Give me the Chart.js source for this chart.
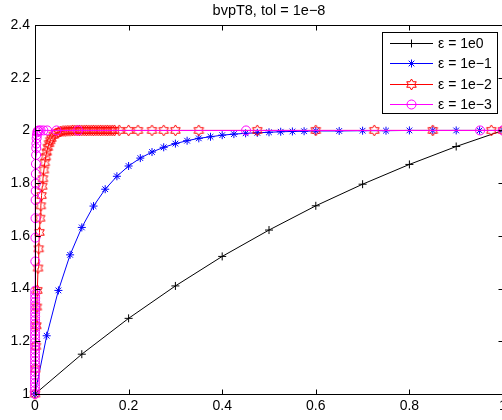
<!DOCTYPE html>
<html>
<head>
<meta charset="utf-8">
<script src="https://cdn.jsdelivr.net/npm/chart.js@4/dist/chart.umd.min.js"></script>
<style>
  html, body { margin: 0; padding: 0; background: #fff; overflow: hidden; }
  #wrap { width: 509px; height: 420px; }
</style>
</head>
<body>
<div id="wrap"><canvas id="c" width="509" height="420"></canvas></div>
<script>
const TITLE = 'bvpT8, tol = 1e\u22128';
const LEGEND_LABELS = ['\u03b5 = 1e0', '\u03b5 = 1e\u22121', '\u03b5 = 1e\u22122', '\u03b5 = 1e\u22123'];

const X_TICKS = [0, 0.2, 0.4, 0.6, 0.8, 1];
const Y_TICKS = [1, 1.2, 1.4, 1.6, 1.8, 2, 2.2, 2.4];

// eps = 1e0
const blackX = [0, 0.1, 0.2, 0.3, 0.4, 0.5, 0.6, 0.7, 0.8, 0.9, 1];
const blackY = [1, 1.151, 1.287, 1.41, 1.522, 1.622, 1.714, 1.796, 1.871, 1.939, 2];

// eps = 1e-1
const blueX = [0, 0.025, 0.05, 0.075, 0.1, 0.125, 0.15, 0.175, 0.2, 0.225, 0.25, 0.275, 0.3,
  0.325, 0.35, 0.375, 0.4, 0.425, 0.45, 0.475, 0.5, 0.525, 0.55, 0.575, 0.6,
  0.65, 0.7, 0.75, 0.8, 0.85, 0.9, 0.95, 1];
const blueY = [1, 1.221, 1.393, 1.528, 1.632, 1.713, 1.777, 1.826, 1.865, 1.895, 1.918, 1.936, 1.95,
  1.961, 1.97, 1.976, 1.982, 1.986, 1.989, 1.991, 1.993, 1.995, 1.996, 1.997, 1.998,
  1.998, 1.999, 1.999, 2, 2, 2, 2, 2];

// eps = 1e-2
const redX = [0, 0.001, 0.002, 0.003, 0.004, 0.005, 0.0065, 0.008, 0.0095, 0.011, 0.0125, 0.014,
  0.0155, 0.017, 0.019, 0.021, 0.023, 0.025, 0.0275, 0.03, 0.0325, 0.035, 0.04, 0.045, 0.05,
  0.055, 0.06, 0.065, 0.07, 0.075, 0.08, 0.085, 0.09, 0.095, 0.1, 0.105, 0.11, 0.115, 0.12,
  0.125, 0.13, 0.135, 0.14, 0.145, 0.15, 0.155, 0.16, 0.165, 0.17, 0.18, 0.2, 0.22, 0.25,
  0.275, 0.3, 0.35, 0.475, 0.6, 0.725, 0.85, 0.975, 1];
const redY = [1, 1.095, 1.181, 1.259, 1.33, 1.393, 1.478, 1.551, 1.613, 1.667, 1.714, 1.753,
  1.788, 1.817, 1.85, 1.878, 1.9, 1.918, 1.936, 1.95, 1.961, 1.97, 1.982, 1.989, 1.993,
  1.996, 1.998, 1.998, 1.999, 1.999, 2, 2, 2, 2, 2, 2, 2, 2, 2,
  2, 2, 2, 2, 2, 2, 2, 2, 2, 2, 2, 2, 2, 2,
  2, 2, 2, 2, 2, 2, 2, 2, 2];

// eps = 1e-3
const magX = [0, 0.000014, 0.000028, 0.000043, 0.000058, 0.000073, 0.000088, 0.000103, 0.000119,
  0.000135, 0.000151, 0.000167, 0.000184, 0.000201, 0.000218, 0.000236, 0.000254, 0.000272,
  0.00029, 0.000309, 0.000329, 0.000348, 0.000368, 0.000389, 0.00041, 0.000431, 0.000452,
  0.000475, 0.000498, 0.0007, 0.0009, 0.0011, 0.00133, 0.00147, 0.0016, 0.0018, 0.00206,
  0.00237, 0.0027, 0.003, 0.0035, 0.004, 0.005, 0.006, 0.008, 0.012, 0.018, 0.026, 0.046,
  0.092, 0.451, 0.951, 1];
const magY = [1, 1.014, 1.028, 1.042, 1.056, 1.07, 1.084, 1.098, 1.112,
  1.126, 1.14, 1.154, 1.168, 1.182, 1.196, 1.21, 1.224, 1.238,
  1.252, 1.266, 1.28, 1.294, 1.308, 1.322, 1.336, 1.35, 1.364,
  1.378, 1.392, 1.503, 1.593, 1.667, 1.736, 1.77, 1.798, 1.835, 1.873,
  1.907, 1.933, 1.95, 1.97, 1.982, 1.993, 1.998, 2, 2, 2, 2, 2,
  2, 2, 2, 2];

const FONT = '"Liberation Sans", Arial, Helvetica, sans-serif';
const FONT_SIZE = 14;

function hexagram(color) {
  const c = document.createElement('canvas');
  c.width = 15; c.height = 15;
  const g = c.getContext('2d');
  const R = 5.5, r = R / Math.sqrt(3);
  g.strokeStyle = color;
  g.lineWidth = 1;
  g.beginPath();
  for (let i = 0; i < 12; i++) {
    const a = -Math.PI / 2 + i * Math.PI / 6;
    const rad = i % 2 ? r : R;
    const px = 7.5 + rad * Math.cos(a), py = 7.5 + rad * Math.sin(a);
    if (i === 0) g.moveTo(px, py); else g.lineTo(px, py);
  }
  g.closePath();
  g.stroke();
  return c;
}

const toPoints = (xs, ys) => xs.map((x, i) => ({ x, y: ys[i] }));

const series = [
  { label: LEGEND_LABELS[0], xs: blackX, ys: blackY, color: '#000000', style: 'cross', radius: 4, order: 3 },
  { label: LEGEND_LABELS[1], xs: blueX, ys: blueY, color: '#0000ff', style: 'star', radius: 4, order: 2 },
  { label: LEGEND_LABELS[2], xs: redX, ys: redY, color: '#ff0000', style: hexagram('#ff0000'), radius: 5, order: 1 },
  { label: LEGEND_LABELS[3], xs: magX, ys: magY, color: '#ff00ff', style: 'circle', radius: 4.5, order: 0 },
];

// MATLAB-ish frame, inward ticks, title and legend
const matlabFrame = {
  id: 'matlabFrame',
  afterDraw(chart) {
    const { ctx, chartArea: a, scales } = chart;
    ctx.save();
    ctx.strokeStyle = '#000';
    ctx.lineWidth = 1;
    const L = Math.round(a.left) + 0.5, R = Math.round(a.right) + 0.5;
    const T = Math.round(a.top) + 0.5, B = Math.round(a.bottom) + 0.5;
    ctx.strokeRect(L, T, R - L, B - T);
    ctx.beginPath();
    X_TICKS.forEach(v => {
      const x = Math.round(scales.x.getPixelForValue(v)) + 0.5;
      ctx.moveTo(x, B); ctx.lineTo(x, B - 5);
      ctx.moveTo(x, T); ctx.lineTo(x, T + 5);
    });
    Y_TICKS.forEach(v => {
      const y = Math.round(scales.y.getPixelForValue(v)) + 0.5;
      ctx.moveTo(L, y); ctx.lineTo(L + 5, y);
      ctx.moveTo(R, y); ctx.lineTo(R - 5, y);
    });
    ctx.stroke();

    // title
    ctx.fillStyle = '#000';
    ctx.font = (FONT_SIZE + 0.5) + 'px ' + FONT;
    ctx.textAlign = 'center';
    ctx.textBaseline = 'alphabetic';
    ctx.fillText(TITLE, (a.left + a.right) / 2, 15);

    // legend
    const bx = 382.5, by = 32.5, bw = 115, bh = 81;
    ctx.fillStyle = '#fff';
    ctx.fillRect(bx, by, bw, bh);
    ctx.strokeRect(bx, by, bw, bh);
    ctx.font = FONT_SIZE + 'px ' + FONT;
    ctx.textAlign = 'left';
    ctx.textBaseline = 'middle';
    series.forEach((s, i) => {
      const y = Math.round(43 + i * 20.3) + 0.5;
      ctx.strokeStyle = s.color;
      ctx.lineWidth = 1;
      ctx.beginPath();
      ctx.moveTo(390, y); ctx.lineTo(433, y);
      ctx.stroke();
      ctx.fillStyle = 'rgba(0,0,0,0)';
      Chart.helpers.drawPoint(ctx, { pointStyle: s.style, radius: s.radius, rotation: 0, borderWidth: 1 }, 411.5, y);
      ctx.fillStyle = '#000';
      ctx.fillText(s.label, 438, y + 1);
    });
    ctx.restore();
  }
};

const fmt = v => String(Math.round(v * 10) / 10);

new Chart(document.getElementById('c'), {
  type: 'line',
  data: {
    datasets: series.map(s => ({
      label: s.label,
      data: toPoints(s.xs, s.ys),
      borderColor: s.color,
      backgroundColor: 'rgba(0,0,0,0)',
      borderWidth: 1,
      pointStyle: s.style,
      pointRadius: s.radius,
      pointBorderColor: s.color,
      pointBackgroundColor: 'rgba(0,0,0,0)',
      pointBorderWidth: 1,
      tension: 0,
      clip: false,
      order: s.order,
    })),
  },
  options: {
    responsive: false,
    animation: false,
    devicePixelRatio: 1,
    layout: { padding: { top: 25, left: 0, right: 2, bottom: 0 } },
    plugins: {
      legend: { display: false },
      tooltip: { enabled: false },
      title: { display: false },
    },
    scales: {
      x: {
        type: 'linear',
        min: 0,
        max: 1,
        afterFit: s => { s.height = 26; s.paddingLeft = 0; s.paddingRight = 0; },
        afterBuildTicks: s => { s.ticks = X_TICKS.map(v => ({ value: v })); },
        grid: { display: false, drawTicks: false, tickLength: 0 },
        border: { display: false },
        ticks: { color: '#000', padding: 4, maxRotation: 0, callback: fmt, font: { family: FONT, size: FONT_SIZE } },
      },
      y: {
        type: 'linear',
        min: 1,
        max: 2.4,
        afterFit: s => { s.width = 35; s.paddingTop = 0; s.paddingBottom = 0; },
        afterBuildTicks: s => { s.ticks = Y_TICKS.map(v => ({ value: v })); },
        grid: { display: false, drawTicks: false, tickLength: 0 },
        border: { display: false },
        ticks: { color: '#000', padding: 5, callback: fmt, font: { family: FONT, size: FONT_SIZE } },
      },
    },
  },
  plugins: [matlabFrame],
});
</script>
</body>
</html>
